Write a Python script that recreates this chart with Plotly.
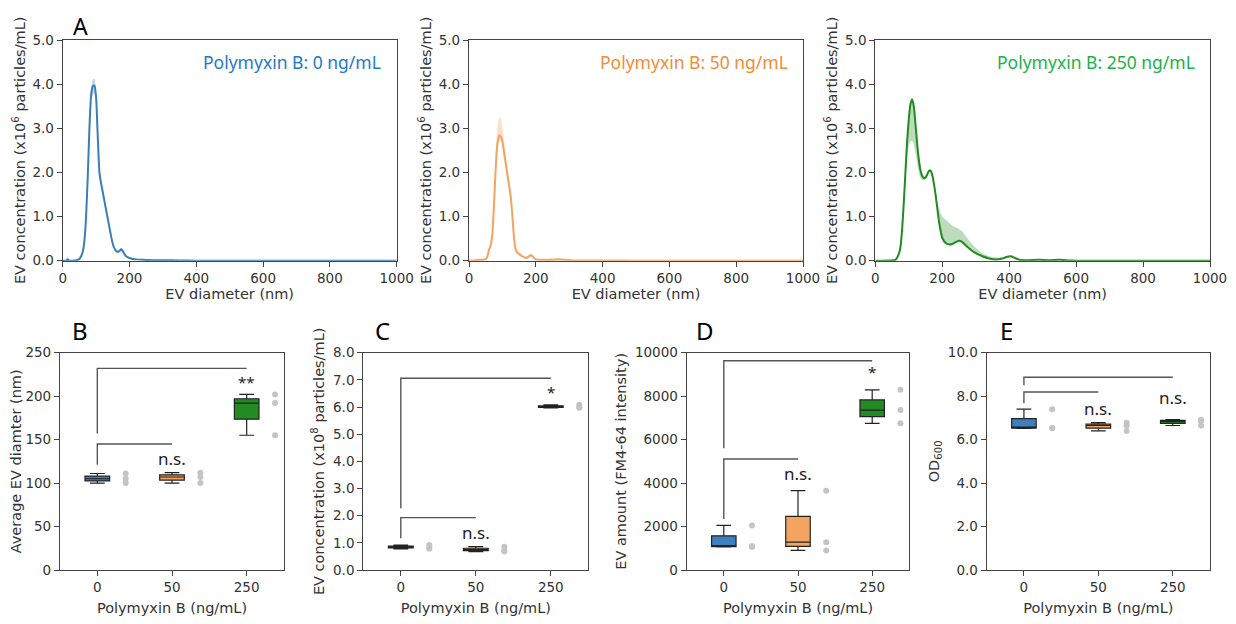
import plotly.graph_objects as go

# ---------------- Panel A data (EV size distributions, x10^6 particles/mL) ----------------
d0 = [0, 10, 15, 20, 30, 40, 50, 55, 60, 65, 70, 75, 80, 85, 90, 95, 100, 105, 110, 115,
      120, 125, 130, 135, 140, 145, 150, 155, 160, 165, 170, 175, 180, 185, 190, 200, 210, 220, 240, 260,
      280, 300, 350, 400, 500, 1000]
m0 = [0, 0, 0.03, 0, 0, 0.01, 0.04, 0.1, 0.2, 0.45, 1.0, 1.9, 3.0, 3.75, 3.95, 3.97, 3.7, 2.8, 2.0, 1.75,
      1.55, 1.35, 1.15, 0.95, 0.75, 0.55, 0.38, 0.28, 0.22, 0.2, 0.22, 0.26, 0.22, 0.15, 0.1, 0.06, 0.04, 0.03, 0.02, 0.015,
      0.01, 0.01, 0.005, 0, 0, 0]
lo0 = [0, 0, 0, 0, 0, 0, 0.03, 0.08, 0.17, 0.4, 0.92, 1.8, 2.85, 3.6, 3.75, 3.8, 3.55, 2.7, 1.92, 1.68,
       1.5, 1.3, 1.1, 0.9, 0.7, 0.5, 0.34, 0.25, 0.19, 0.17, 0.19, 0.23, 0.19, 0.13, 0.08, 0.05, 0.03, 0.02, 0.01, 0.01,
       0.005, 0.005, 0, 0, 0, 0]
hi0 = [0, 0.01, 0.1, 0.01, 0.01, 0.02, 0.05, 0.12, 0.23, 0.5, 1.1, 2.0, 3.15, 3.9, 4.1, 4.12, 3.85, 2.9, 2.1, 1.85,
       1.62, 1.42, 1.22, 1.0, 0.8, 0.6, 0.42, 0.31, 0.25, 0.23, 0.25, 0.29, 0.25, 0.18, 0.12, 0.07, 0.05, 0.04, 0.03, 0.02,
       0.015, 0.015, 0.01, 0, 0, 0]

d1 = [0, 20, 30, 40, 50, 55, 60, 65, 70, 75, 80, 85, 90, 95, 100, 105, 110, 115, 120, 125,
      130, 135, 140, 145, 150, 160, 170, 180, 185, 190, 200, 220, 250, 270, 290, 320, 400, 500, 1000]
m1 = [0, 0.01, 0.02, 0.02, 0.04, 0.1, 0.25, 0.35, 0.6, 1.3, 2.1, 2.65, 2.83, 2.82, 2.7, 2.45, 2.2, 1.95, 1.7, 1.45,
      1.0, 0.5, 0.25, 0.18, 0.15, 0.1, 0.06, 0.1, 0.13, 0.1, 0.03, 0.02, 0.02, 0.03, 0.02, 0.005, 0.005, 0, 0]
lo1 = [0, 0, 0.01, 0.01, 0.03, 0.08, 0.22, 0.3, 0.5, 1.15, 1.9, 2.45, 2.7, 2.72, 2.6, 2.35, 2.1, 1.85, 1.6, 1.35,
       0.88, 0.4, 0.2, 0.15, 0.12, 0.08, 0.04, 0.08, 0.1, 0.08, 0.02, 0.01, 0.01, 0.01, 0.01, 0, 0, 0, 0]
hi1 = [0, 0.02, 0.03, 0.04, 0.06, 0.13, 0.3, 0.42, 0.75, 1.5, 2.4, 3.0, 3.22, 3.25, 3.0, 2.7, 2.4, 2.15, 1.85, 1.58,
       1.12, 0.62, 0.32, 0.22, 0.19, 0.13, 0.09, 0.13, 0.16, 0.13, 0.05, 0.04, 0.05, 0.06, 0.04, 0.01, 0.01, 0, 0]

d2 = [0, 20, 40, 60, 70, 75, 80, 85, 90, 95, 100, 105, 110, 115, 120, 125, 130, 135, 140, 145,
      150, 155, 160, 165, 170, 175, 180, 185, 190, 195, 200, 210, 220, 230, 240, 250, 260, 270, 280, 290,
      300, 320, 340, 360, 380, 395, 405, 415, 430, 450, 490, 520, 550, 580, 600, 700, 800, 900, 1000]
m2 = [0, 0, 0.005, 0.02, 0.15, 0.3, 0.7, 1.3, 2.0, 2.7, 3.2, 3.55, 3.65, 3.5, 3.1, 2.65, 2.3, 2.05, 1.92, 1.87,
      1.88, 1.95, 2.03, 2.04, 1.95, 1.75, 1.5, 1.2, 0.9, 0.68, 0.52, 0.4, 0.37, 0.38, 0.42, 0.45, 0.42, 0.35, 0.28, 0.22,
      0.17, 0.1, 0.05, 0.03, 0.05, 0.09, 0.1, 0.07, 0.02, 0.01, 0.02, 0.01, 0.02, 0.005, 0, 0, 0, 0, 0]
lo2 = [0, 0, 0.005, 0.02, 0.14, 0.28, 0.65, 1.2, 1.8, 2.3, 2.6, 2.7, 2.72, 2.65, 2.45, 2.2, 2.0, 1.88, 1.83, 1.82,
       1.85, 1.93, 2.0, 2.0, 1.92, 1.72, 1.48, 1.18, 0.88, 0.66, 0.5, 0.38, 0.35, 0.36, 0.4, 0.43, 0.4, 0.33, 0.26, 0.2,
       0.15, 0.08, 0.04, 0.02, 0.04, 0.07, 0.08, 0.05, 0.01, 0.005, 0.01, 0.005, 0.01, 0, 0, 0, 0, 0, 0]
hi2 = [0, 0.005, 0.01, 0.03, 0.17, 0.33, 0.75, 1.4, 2.1, 2.8, 3.3, 3.6, 3.7, 3.55, 3.15, 2.7, 2.35, 2.1, 1.96, 1.92,
       1.93, 2.0, 2.07, 2.08, 2.0, 1.82, 1.55, 1.35, 1.2, 1.08, 1.0, 0.92, 0.86, 0.8, 0.76, 0.72, 0.66, 0.56, 0.46, 0.37,
       0.29, 0.17, 0.1, 0.07, 0.07, 0.11, 0.12, 0.09, 0.03, 0.02, 0.03, 0.02, 0.03, 0.01, 0, 0, 0, 0, 0]

a_titles = ["Polymyxin B: 0 ng/mL", "Polymyxin B: 50 ng/mL", "Polymyxin B: 250 ng/mL"]

# ---------------- Panels B-E data (3 replicates per group) ----------------
categories = ["0", "50", "250"]
B_diam = [[100, 105, 111], [100, 107, 112], [155, 192, 202]]
C_conc = [[0.78, 0.84, 0.92], [0.68, 0.74, 0.86], [5.97, 6.0, 6.08]]
D_fm464 = [[1060, 1100, 2050], [900, 1280, 3650], [6750, 7360, 8290]]
E_od600 = [[6.52, 6.53, 7.4], [6.40, 6.65, 6.78], [6.65, 6.85, 6.92]]

# significance brackets: (right category, bracket height, left drop end)
B_brackets = [(2, 232, 157), (1, 145, 121)]
C_brackets = [(2, 7.06, 2.27), (1, 1.93, 1.17)]
D_brackets = [(2, 9630, 5600), (1, 5110, 2350)]
E_brackets = [(2, 8.87, 8.5), (1, 8.19, 7.67)]
B_marks = [("**", 2, 216), ("n.s.", 1, 128)]
C_marks = [("*", 2, 6.55), ("n.s.", 1, 1.38)]
D_marks = [("*", 2, 9120), ("n.s.", 1, 4450)]
E_marks = [("n.s.", 1, 7.45), ("n.s.", 2, 7.95)]

# ---------------- styling ----------------
line_cols = ["#3a7dbb", "#f4a460", "#228b22"]
band_cols = ["rgba(58,125,187,0.30)", "rgba(244,164,96,0.35)", "rgba(34,139,34,0.30)"]
title_cols = ["#2479c6", "#f28c38", "#21b04b"]
box_cols = ["#3d7fbf", "#f4a460", "#228b22"]
AX = "#444444"
TXT = "#333333"
FONT = "DejaVu Sans"
FONT2 = "Noto Sans"

# page has an 8px body margin; the figure is sized to fit the 1236x624 window
OFF = 8
W, H = 1236 - OFF, 624 - OFF


def fx(px):
    return (px - OFF) / W


def fy(py):
    return 1 - (py - OFF) / H


fig = go.Figure()

top = [(d0, m0, lo0, hi0), (d1, m1, lo1, hi1), (d2, m2, lo2, hi2)]
for k, (d, m, lo, hi) in enumerate(top):
    xa = "x" if k == 0 else f"x{k+1}"
    ya = "y" if k == 0 else f"y{k+1}"
    fig.add_trace(go.Scatter(x=d, y=lo, mode="lines", line=dict(width=0, shape="spline", smoothing=0.5),
                             xaxis=xa, yaxis=ya, showlegend=False, hoverinfo="skip"))
    fig.add_trace(go.Scatter(x=d, y=hi, mode="lines", fill="tonexty", fillcolor=band_cols[k],
                             line=dict(width=0, shape="spline", smoothing=0.5),
                             xaxis=xa, yaxis=ya, showlegend=False, hoverinfo="skip"))
    fig.add_trace(go.Scatter(x=d, y=m, mode="lines",
                             line=dict(color=line_cols[k], width=2, shape="spline", smoothing=0.5),
                             xaxis=xa, yaxis=ya, showlegend=False))

bottom = [(B_diam, B_brackets, B_marks), (C_conc, C_brackets, C_marks),
          (D_fm464, D_brackets, D_marks), (E_od600, E_brackets, E_marks)]
annotations = []
for p, (vals, brackets, marks) in enumerate(bottom):
    xa = f"x{p+4}"
    ya = f"y{p+4}"
    for i, v in enumerate(vals):
        fig.add_trace(go.Box(x=[i] * len(v), y=v, width=0.33, fillcolor=box_cols[i],
                             line=dict(color="#222222", width=1.2), whiskerwidth=0.6,
                             quartilemethod="inclusive",
                             boxpoints=False, xaxis=xa, yaxis=ya, showlegend=False))
        fig.add_trace(go.Scatter(x=[i + 0.38] * len(v), y=v, mode="markers",
                                 marker=dict(color="#c4c4c4", size=6),
                                 xaxis=xa, yaxis=ya, showlegend=False))
    for (x1, yh, yd) in brackets:
        fig.add_trace(go.Scatter(x=[0, 0, x1], y=[yd, yh, yh], mode="lines",
                                 line=dict(color="#555555", width=1.4),
                                 xaxis=xa, yaxis=ya, showlegend=False, hoverinfo="skip"))
    for (txt, xc, yc) in marks:
        annotations.append(dict(text=txt, x=xc, y=yc, xref=xa, yref=ya, showarrow=False,
                                font=dict(family=FONT2, size=17 if txt == "n.s." else 15, color="#222222"),
                                xanchor="center", yanchor="middle"))

for k, t in enumerate(a_titles):
    xa = "x" if k == 0 else f"x{k+1}"
    ya = "y" if k == 0 else f"y{k+1}"
    annotations.append(dict(text=t, x=0.96, y=0.90, xref=f"{xa} domain", yref=f"{ya} domain",
                            showarrow=False, xanchor="right", yanchor="middle",
                            font=dict(family=FONT2, size=17.5, color=title_cols[k])))

# panel letters: "A" sits at the very top, anchored to the figure's top edge
annotations.append(dict(text="A", x=fx(80), y=1, xref="paper", yref="paper",
                        showarrow=False, xanchor="center", yanchor="top",
                        font=dict(family=FONT2, size=23, color="#000000")))
for letter, px, py in [("B", 80, 330), ("C", 382, 330), ("D", 705, 330), ("E", 1006, 330)]:
    annotations.append(dict(text=letter, x=fx(px), y=fy(py), xref="paper", yref="paper",
                            showarrow=False, xanchor="center", yanchor="middle",
                            font=dict(family=FONT2, size=24, color="#000000")))


def axis(domain, **kw):
    d = dict(domain=domain, showline=True, mirror=True, linecolor=AX, linewidth=1.2,
             ticks="outside", ticklen=5, tickwidth=1.1, tickcolor=AX, ticklabelstandoff=0,
             showgrid=False, zeroline=False, automargin=False,
             tickfont=dict(family=FONT, size=13.5, color=TXT),
             title_font=dict(family=FONT, size=14.5, color=TXT))
    d.update(kw)
    return d


top_y = [fy(260.7), fy(40)]
bot_y = [fy(570), fy(352.7)]
top_x = [[62.7, 396.7], [469, 803], [875.3, 1210]]
bot_x = [[60, 284], [363.3, 588.3], [686.7, 909.3], [986.7, 1210]]

layout = dict(width=W, height=H, margin=dict(l=0, r=0, t=0, b=0),
              paper_bgcolor="white", plot_bgcolor="white", showlegend=False,
              annotations=annotations)

ytitle_a = "EV concentration (x10<sup>6</sup> particles/mL)"
for k in range(3):
    xk = "xaxis" if k == 0 else f"xaxis{k+1}"
    yk = "yaxis" if k == 0 else f"yaxis{k+1}"
    xn = "x" if k == 0 else f"x{k+1}"
    yn = "y" if k == 0 else f"y{k+1}"
    layout[xk] = axis([fx(top_x[k][0]), fx(top_x[k][1])], anchor=yn, range=[0, 1000],
                      tickvals=[0, 200, 400, 600, 800, 1000],
                      title=dict(text="EV diameter (nm)", standoff=1))
    layout[yk] = axis(top_y, anchor=xn, range=[0, 5], tickvals=[0, 1, 2, 3, 4, 5], tickformat=".1f",
                      title=dict(text=ytitle_a, standoff=3))

ytitles_b = ["Average EV diamter (nm)", "EV concentration (x10<sup>8</sup> particles/mL)",
             "EV amount (FM4-64 intensity)", "OD<sub>600</sub>"]
yranges = [[0, 250], [0, 8], [0, 10000], [0, 10]]
yticks = [[0, 50, 100, 150, 200, 250], [0, 1, 2, 3, 4, 5, 6, 7, 8],
          [0, 2000, 4000, 6000, 8000, 10000], [0, 2, 4, 6, 8, 10]]
yfmts = ["d", ".1f", "d", ".1f"]
for p in range(4):
    layout[f"xaxis{p+4}"] = axis([fx(bot_x[p][0]), fx(bot_x[p][1])], anchor=f"y{p+4}",
                                 range=[-0.5, 2.5], tickvals=[0, 1, 2], ticktext=categories,
                                 title=dict(text="Polymyxin B (ng/mL)", standoff=8))
    layout[f"yaxis{p+4}"] = axis(bot_y, anchor=f"x{p+4}", range=yranges[p], tickvals=yticks[p],
                                 tickformat=yfmts[p], title=dict(text=ytitles_b[p], standoff=4))

fig.update_layout(**layout)
fig.write_html("out.html")
